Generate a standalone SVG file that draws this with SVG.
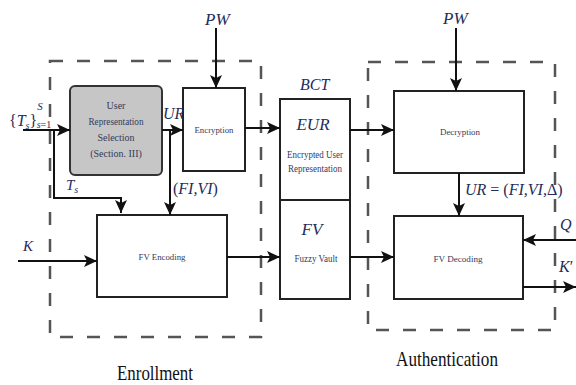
<svg xmlns="http://www.w3.org/2000/svg" width="576" height="385" viewBox="0 0 576 385" font-family="'Liberation Serif', 'DejaVu Serif', serif">
<defs>
<marker id="ah" markerUnits="userSpaceOnUse" markerWidth="14" markerHeight="12" refX="13" refY="6" orient="auto">
<path d="M0,0 L13,6 L0,12 L3,6 z" fill="#111"/>
</marker>
<style>
.box{fill:#fff;stroke:#222;stroke-width:2}
.gray{fill:#c6c6c6;stroke:#333;stroke-width:2}
.dash{fill:none;stroke:#555;stroke-width:2.5;stroke-dasharray:13 14}
.c{fill:none;stroke:#111;stroke-width:2}
text{font-family:'Liberation Serif','DejaVu Serif',serif}
.t{fill:#333a5a;text-anchor:middle}
.m{font-style:italic;fill:#1f2d5c}
.n{font-style:normal}
.big{fill:#111;text-anchor:middle}
</style>
</defs>
<rect width="576" height="385" fill="#fff"/>

<g id="enrollment-region">
<rect class="dash" x="50" y="61" width="211" height="276"/>
<text class="big" x="155" y="380" font-size="20" textLength="76" lengthAdjust="spacingAndGlyphs">Enrollment</text>
</g>
<g id="authentication-region">
<rect class="dash" x="368" y="62" width="187" height="268"/>
<text class="big" x="447" y="366" font-size="21" textLength="102" lengthAdjust="spacingAndGlyphs">Authentication</text>
</g>

<g id="urs">
<rect class="gray" x="70" y="86" width="92" height="89" rx="5"/>
<text class="t" x="116" y="109" font-size="10">User</text>
<text class="t" x="116" y="125" font-size="10" textLength="55" lengthAdjust="spacingAndGlyphs">Representation</text>
<text class="t" x="116" y="141" font-size="10">Selection</text>
<text class="t" x="116" y="157" font-size="10">(Section. III)</text>
</g>
<g id="encryption">
<rect class="box" x="183" y="88" width="62" height="83"/>
<text class="t" x="214" y="133" font-size="9" textLength="39" lengthAdjust="spacingAndGlyphs">Encryption</text>
</g>
<g id="fv-encoding">
<rect class="box" x="97" y="215" width="130" height="82"/>
<text class="t" x="162" y="260" font-size="9" textLength="47" lengthAdjust="spacingAndGlyphs">FV Encoding</text>
</g>
<g id="bct">
<text class="m" x="300" y="90" font-size="16">BCT</text>
<rect class="box" x="280" y="99" width="70" height="200"/>
<line x1="280" y1="200" x2="350" y2="200" stroke="#222" stroke-width="2"/>
<text class="m" x="313" y="130" font-size="17" text-anchor="middle">EUR</text>
<text class="t" x="315" y="158" font-size="9.5" textLength="56" lengthAdjust="spacingAndGlyphs">Encrypted User</text>
<text class="t" x="315" y="172" font-size="9.5" textLength="54" lengthAdjust="spacingAndGlyphs">Representation</text>
<text class="m" x="312" y="235" font-size="17" text-anchor="middle">FV</text>
<text class="t" x="316" y="262" font-size="9.5" textLength="43" lengthAdjust="spacingAndGlyphs">Fuzzy Vault</text>
</g>
<g id="decryption">
<rect class="box" x="394" y="91" width="130" height="82"/>
<text class="t" x="460" y="135" font-size="9" textLength="40" lengthAdjust="spacingAndGlyphs">Decryption</text>
</g>
<g id="fv-decoding">
<rect class="box" x="394" y="216" width="129" height="83"/>
<text class="t" x="458" y="262" font-size="9" textLength="49" lengthAdjust="spacingAndGlyphs">FV Decoding</text>
</g>

<g id="connectors">
<path class="c" d="M23,130 H70" marker-end="url(#ah)"/>
<path class="c" d="M54,130 V198 H121 V213" marker-end="url(#ah)"/>
<path class="c" d="M162,130 H183" marker-end="url(#ah)"/>
<path class="c" d="M170,130 V215" marker-end="url(#ah)"/>
<path class="c" d="M216,28 V88" marker-end="url(#ah)"/>
<path class="c" d="M245,128 H280" marker-end="url(#ah)"/>
<path class="c" d="M18,261 H97" marker-end="url(#ah)"/>
<path class="c" d="M227,257 H280" marker-end="url(#ah)"/>
<path class="c" d="M456,28 V91" marker-end="url(#ah)"/>
<path class="c" d="M350,130 H394" marker-end="url(#ah)"/>
<path class="c" d="M459,173 V216" marker-end="url(#ah)"/>
<path class="c" d="M350,257 H394" marker-end="url(#ah)"/>
<path class="c" d="M576,240 H523" marker-end="url(#ah)"/>
<path class="c" d="M523,287 H576" marker-end="url(#ah)"/>
</g>

<g id="labels">
<text class="m" x="205" y="25" font-size="17">PW</text>
<text class="m" x="443" y="24" font-size="17">PW</text>
<text class="m" x="9" y="126" font-size="16"><tspan class="n">{</tspan>T<tspan font-size="10" dy="3">s</tspan><tspan class="n" dy="-3">}</tspan><tspan font-size="11" dy="-16">S</tspan><tspan font-size="10" dx="-6" dy="18">s</tspan><tspan class="n" font-size="10">=1</tspan></text>
<text class="m" x="163" y="119" font-size="16">UR</text>
<text class="m" x="173" y="194" font-size="16"><tspan class="n">(</tspan>FI,VI<tspan class="n">)</tspan></text>
<text class="m" x="66" y="190" font-size="15">T<tspan font-size="10" dy="3">s</tspan></text>
<text class="m" x="23" y="251" font-size="15">K</text>
<text class="m" x="465" y="195" font-size="16">UR<tspan class="n"> = (</tspan>FI,VI,<tspan class="n">Δ)</tspan></text>
<text class="m" x="560" y="230" font-size="16">Q</text>
<text class="m" x="559" y="272" font-size="16">K<tspan class="n">′</tspan></text>
</g>
</svg>
